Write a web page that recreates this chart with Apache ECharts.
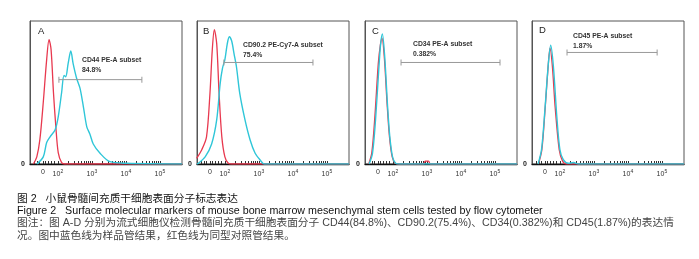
<!DOCTYPE html>
<html>
<head>
<meta charset="utf-8">
<script src="https://cdn.jsdelivr.net/npm/echarts@6/dist/echarts.min.js"></script>
<style>
  html, body { margin: 0; padding: 0; background: #fff; }
  #chart { width: 699px; height: 259px; }
</style>
</head>
<body>
<div id="chart"></div>
<script>
// x = position on the display scale in decades (2 = 10^2), y = % of the highest count
const panelNames = ['A', 'B', 'C', 'D'];
const markerLabels = ['CD44 PE-A subset', 'CD90.2 PE-Cy7-A subset', 'CD34 PE-A subset', 'CD45 PE-A subset'];
const subsetPercents = ['84.8%', '75.4%', '0.382%', '1.87%'];
const tickLabels = ['0', '10|2', '10|3', '10|4', '10|5'];
const tickPositions = [1.56, 2, 3, 4, 5];
const gateRanges = [[2.03, 4.47], [1.97, 4.59], [2.24, 5.15], [2.21, 4.86]];
const gateHeights = [59, 71, 71, 78];

// 样品管 (蓝色)
const cd44Sample = [[1.38, 0], [1.57, 5], [1.67, 15], [1.77, 19], [1.92, 24], [2.01, 33], [2.11, 50], [2.18, 62], [2.23, 61], [2.3, 70], [2.38, 79], [2.45, 70], [2.55, 60], [2.65, 53], [2.75, 40], [2.85, 26], [2.94, 21], [3.04, 14], [3.24, 7.5], [3.53, 1.6], [4.02, 0.5], [5.65, 0]];
const cd90Sample = [[1.18, 0], [1.22, 0.5], [1.42, 5], [1.61, 14], [1.76, 31], [1.86, 56], [1.93, 67], [2.0, 73], [2.07, 84], [2.13, 89], [2.2, 86], [2.27, 77], [2.34, 68], [2.44, 49], [2.59, 31], [2.74, 17], [2.89, 7.5], [3.03, 3], [3.16, 0], [5.65, 0]];
const cd34Sample = [[1.3, 0], [1.4, 7.5], [1.49, 31], [1.59, 68], [1.64, 84], [1.69, 91], [1.76, 75], [1.84, 42], [1.91, 19], [1.99, 5], [2.08, 0.5], [2.2, 0], [5.65, 0]];
const cd45Sample = [[1.36, 0], [1.46, 10], [1.56, 38], [1.66, 70], [1.73, 83], [1.81, 68], [1.91, 33], [2.0, 10], [2.1, 3], [2.25, 0.5], [2.4, 1], [2.55, 0], [5.65, 0]];

// 同型对照管 (红色)
const cd44Isotype = [[1.28, 0], [1.38, 5], [1.47, 17], [1.57, 43], [1.67, 73], [1.74, 87], [1.8, 80], [1.87, 50], [1.94, 26], [2.01, 8], [2.11, 1], [2.2, 0], [5.65, 0]];
const cd90Isotype = [[1.17, 4], [1.32, 10], [1.46, 19], [1.56, 49], [1.63, 80], [1.69, 94], [1.76, 84], [1.83, 49], [1.91, 19], [2.0, 5], [2.1, 0.5], [2.2, 0], [5.65, 0]];
const cd34Isotype = [[1.29, 0], [1.38, 8], [1.47, 33], [1.57, 70], [1.63, 83], [1.68, 88], [1.75, 74], [1.83, 42], [1.9, 19], [1.98, 5], [2.07, 0.5], [2.2, 0], [2.9, 0], [2.95, 2], [3.05, 2], [3.1, 0], [5.65, 0]];
const cd45Isotype = [[1.37, 0], [1.47, 10], [1.57, 40], [1.66, 70], [1.71, 81], [1.78, 68], [1.86, 40], [1.98, 10], [2.08, 2], [2.2, 0], [5.65, 0]];

const sampleSets = [cd44Sample, cd90Sample, cd34Sample, cd45Sample];
const isotypeSets = [cd44Isotype, cd90Isotype, cd34Isotype, cd45Isotype];

const SAMPLE_COLOR = '#2fc6d8';
const ISOTYPE_COLOR = '#e8394f';
const boxLefts = [30, 197, 365, 532];
const BOX_TOP = 21, BOX_W = 152, BOX_H = 143;
const X_MIN = 1.18, X_MAX = 5.65;

// 坐标轴刻度: 0 附近的线性段 + 对数段的次刻度
const axisTicks = [1.3, 1.38, 1.46, 1.56, 1.64, 1.72, 1.8, 1.88];
for (let d = 2; d <= 4; d++) {
  for (let k = 1; k <= 9; k++) axisTicks.push(Math.log10(k * Math.pow(10, d)));
}
axisTicks.push(5);

const grid = [], xAxis = [], yAxis = [], series = [], graphic = [];

panelNames.forEach((name, i) => {
  grid.push({
    left: boxLefts[i], top: BOX_TOP, width: BOX_W, height: BOX_H,
    show: true, borderColor: '#555', borderWidth: 1
  });
  xAxis.push({
    gridIndex: i, type: 'value', min: X_MIN, max: X_MAX,
    splitLine: { show: false },
    axisLine: { lineStyle: { color: '#111', width: 1.4 } },
    axisTick: { inside: true, length: 3, customValues: axisTicks, lineStyle: { color: '#333' } },
    axisLabel: {
      customValues: tickPositions,
      margin: 5,
      color: '#333',
      formatter: v => {
        const t = tickLabels[tickPositions.indexOf(v)] || '';
        const p = t.split('|');
        return p.length > 1 ? '{b|' + p[0] + '}{s|' + p[1] + '}' : '{b|' + t + '}';
      },
      rich: {
        b: { fontSize: 7, fontFamily: 'Liberation Sans', color: '#333' },
        s: { fontSize: 5, fontFamily: 'Liberation Sans', color: '#333', padding: [0, 0, 5, 0] }
      }
    }
  });
  yAxis.push({
    gridIndex: i, type: 'value', min: 0, max: 100, interval: 100,
    splitLine: { show: false },
    axisLine: { show: true, lineStyle: { color: '#555' } },
    axisTick: { show: false },
    axisLabel: {
      margin: 5, fontSize: 7, fontWeight: 'bold', color: '#222', fontFamily: 'Liberation Sans',
      formatter: v => (v === 0 ? '0' : '')
    }
  });
  series.push({
    type: 'line', xAxisIndex: i, yAxisIndex: i, data: isotypeSets[i],
    smooth: 0.3, showSymbol: false, silent: true,
    lineStyle: { color: ISOTYPE_COLOR, width: 1.3 }
  });
  series.push({
    type: 'line', xAxisIndex: i, yAxisIndex: i, data: sampleSets[i],
    smooth: 0.3, showSymbol: false, silent: true,
    lineStyle: { color: SAMPLE_COLOR, width: 1.4 }
  });
  // gate 线
  series.push({
    type: 'line', xAxisIndex: i, yAxisIndex: i,
    data: gateRanges[i].map(x => [x, gateHeights[i]]),
    symbol: 'rect', symbolSize: [1, 6], showSymbol: true, silent: true,
    lineStyle: { color: '#999', width: 1 }, itemStyle: { color: '#999' }
  });
});

// 面板字母 + subset 文字
const letterPos = [[38, 26], [203, 26], [372, 26], [539, 25]];
const labelPos = [[82, 55], [243, 40], [413, 39], [573, 31]];
panelNames.forEach((name, i) => {
  graphic.push({
    type: 'text', left: letterPos[i][0], top: letterPos[i][1],
    style: { text: name, fontSize: 9.5, fill: '#222', fontFamily: 'Liberation Sans' }
  });
  graphic.push({
    type: 'text', left: labelPos[i][0], top: labelPos[i][1],
    style: {
      text: markerLabels[i] + '\n' + subsetPercents[i], fontSize: 6.8, lineHeight: 10,
      fontWeight: 'bold', fill: '#333', fontFamily: 'Liberation Sans'
    }
  });
});

// 图题与图注
const captionLines = [
  { text: '图 2   小鼠骨髓间充质干细胞表面分子标志表达', top: 194, color: '#111' },
  { text: 'Figure 2   Surface molecular markers of mouse bone marrow mesenchymal stem cells tested by flow cytometer', top: 206, color: '#111' },
  { text: '图注：图 A-D 分别为流式细胞仪检测骨髓间充质干细胞表面分子 CD44(84.8%)、CD90.2(75.4%)、CD34(0.382%)和 CD45(1.87%)的表达情', top: 217.5, color: '#444' },
  { text: '况。图中蓝色线为样品管结果，红色线为同型对照管结果。', top: 231, color: '#444' }
];
captionLines.forEach(c => {
  graphic.push({
    type: 'text', left: 17, top: c.top,
    style: { text: c.text, fontSize: 10.7, fill: c.color, fontFamily: '"Liberation Sans", "Noto Sans CJK SC", sans-serif' }
  });
});

const chart = echarts.init(document.getElementById('chart'));
chart.setOption({
  animation: false,
  backgroundColor: '#fff',
  grid, xAxis, yAxis, series, graphic
});
</script>
</body>
</html>
